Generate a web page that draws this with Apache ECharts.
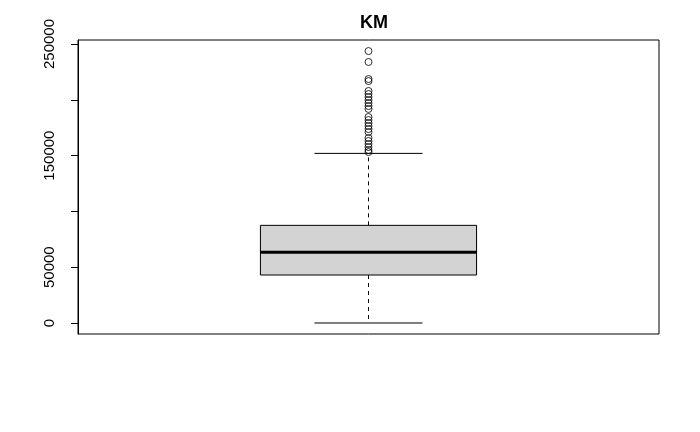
<!DOCTYPE html>
<html>
<head>
<meta charset="utf-8">
<script src="https://cdn.jsdelivr.net/npm/echarts@6/dist/echarts.min.js"></script>
<style>html,body{margin:0;padding:0;background:#fff;}#c{width:700px;height:432px;}</style>
</head>
<body>
<div id="c"></div>
<script>
var categories = ['KM'];
// [lowerWhisker, Q1, median, Q3, upperWhisker]
var boxStats = [[0, 43000, 63300, 87500, 152000]];
var outliers = [243700, 233900, 218600, 216800, 207900, 205200, 202500, 199800, 197100, 194400, 191800,
  184600, 181900, 179200, 176500, 173800, 171100, 165800, 163100, 160400, 157700, 155000, 153200];
var yTicks = [0, 50000, 100000, 150000, 200000, 250000];
var yTickLabels = ['0', '50000', '', '150000', '', '250000'];

var chart = echarts.init(document.getElementById('c'));
var lineStyle = {stroke: '#000', lineWidth: 1};
chart.setOption({
  animation: false,
  title: {text: 'KM', left: 369, top: 9, textAlign: 'center',
    textStyle: {fontFamily: 'Liberation Sans, Arial', fontWeight: 'bold', fontSize: 18, color: '#000'}},
  grid: {left: 78, right: 41, top: 40, bottom: 98, show: true, borderColor: '#000', borderWidth: 1, backgroundColor: 'transparent'},
  xAxis: {type: 'category', data: categories, axisLine: {show: false}, axisTick: {show: false}, axisLabel: {show: false}, splitLine: {show: false}},
  yAxis: {type: 'value', min: -9860, max: 253600,
    axisLine: {show: true, lineStyle: {color: '#000'}},
    axisTick: {show: true, length: 7, lineStyle: {color: '#000'}, customValues: yTicks},
    axisLabel: {show: true, rotate: 90, margin: 21, color: '#000', fontSize: 15, fontFamily: 'Liberation Sans, Arial',
      customValues: yTicks,
      formatter: function (v) { var i = yTicks.indexOf(v); return i >= 0 ? yTickLabels[i] : ''; }},
    splitLine: {show: false}},
  series: [
    {
      type: 'custom',
      data: boxStats.map(function (d, i) { return [i].concat(d); }),
      encode: {x: 0, y: [1, 2, 3, 4, 5]},
      renderItem: function (params, api) {
        var x = api.value(0);
        var bw = api.size([1, 0])[0] * 0.372;
        var cw = bw / 2;
        var pLo = api.coord([x, api.value(1)]);
        var pQ1 = api.coord([x, api.value(2)]);
        var pMed = api.coord([x, api.value(3)]);
        var pQ3 = api.coord([x, api.value(4)]);
        var pHi = api.coord([x, api.value(5)]);
        var cx = pMed[0];
        return {
          type: 'group',
          children: [
            {type: 'line', shape: {x1: cx, y1: pQ3[1], x2: cx, y2: pHi[1]}, style: {stroke: '#000', lineWidth: 1, lineDash: [4, 4]}},
            {type: 'line', shape: {x1: cx, y1: pQ1[1], x2: cx, y2: pLo[1]}, style: {stroke: '#000', lineWidth: 1, lineDash: [4, 4]}},
            {type: 'line', shape: {x1: cx - cw / 2, y1: pHi[1], x2: cx + cw / 2, y2: pHi[1]}, style: lineStyle},
            {type: 'line', shape: {x1: cx - cw / 2, y1: pLo[1], x2: cx + cw / 2, y2: pLo[1]}, style: lineStyle},
            {type: 'rect', shape: {x: cx - bw / 2, y: pQ3[1], width: bw, height: pQ1[1] - pQ3[1]}, style: {fill: '#d3d3d3', stroke: '#000', lineWidth: 1}},
            {type: 'line', shape: {x1: cx - bw / 2, y1: pMed[1], x2: cx + bw / 2, y2: pMed[1]}, style: {stroke: '#000', lineWidth: 3}}
          ]
        };
      }
    },
    {
      type: 'scatter',
      data: outliers.map(function (v) { return [0, v]; }),
      symbol: 'circle',
      symbolSize: 7,
      itemStyle: {color: 'rgba(0,0,0,0)', borderColor: '#000', borderWidth: 1},
      z: 5
    }
  ]
});
</script>
</body>
</html>
